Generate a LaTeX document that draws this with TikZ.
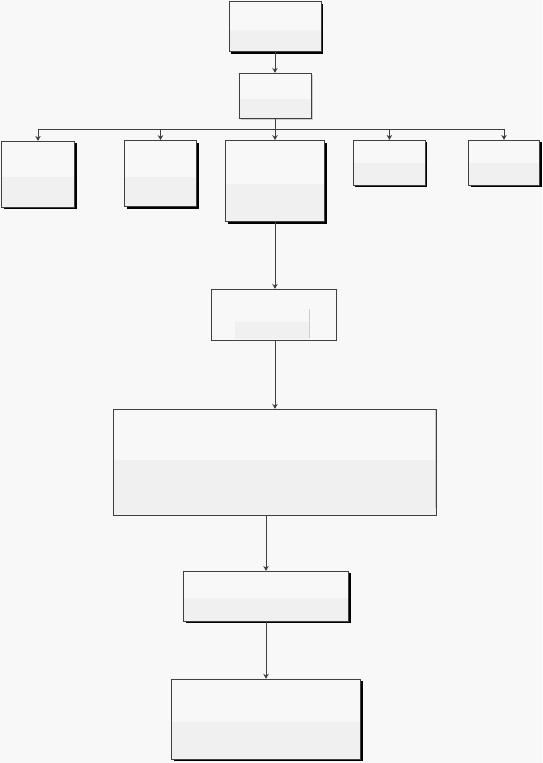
\documentclass[tikz,border=0pt]{standalone}
\usepackage{tikz}
\usetikzlibrary{arrows.meta, shadows}
\definecolor{bggray}{HTML}{F8F8F8}
\definecolor{lowgray}{HTML}{F0F0F0}
\definecolor{linegray}{HTML}{404040}
\definecolor{bargray}{HTML}{CCCCCC}

\begin{document}
\begin{tikzpicture}[
    x=1pt, y=-1pt,
    box/.style={rectangle, draw=linegray, fill=bggray, line width=0.8pt, inner sep=0pt,
        path picture={\fill[lowgray] (path picture bounding box.south west) rectangle ([yshift=#1]path picture bounding box.east);}},
    box/.default=-3pt,
    plainbox/.style={rectangle, draw=linegray, fill=bggray, line width=0.8pt, inner sep=0pt},
    darkshadow/.style={drop shadow={shadow xshift=2pt, shadow yshift=-2pt, fill=black, opacity=1}},
    softshadow/.style={drop shadow={shadow xshift=2pt, shadow yshift=-2pt, fill=black!20, opacity=1}},
    arrow/.style={-{Stealth[length=5pt, width=5.5pt]}, draw=linegray, line width=0.8pt},
    link/.style={draw=linegray, line width=0.8pt}
]
\fill[bggray] (0,0) rectangle (542,763);
\useasboundingbox (0,0) rectangle (542,763);

\node[box, darkshadow, minimum width=92pt, minimum height=50pt] (top) at (275,26.5) {};
\node[box, softshadow, minimum width=72pt, minimum height=45pt] (hub) at (275,95.8) {};

% row of five
\node[box, darkshadow, minimum width=73pt, minimum height=66pt] (ca) at (38,174.3) {};
\node[box, darkshadow, minimum width=72pt, minimum height=66pt] (cb) at (160.5,173.5) {};
\node[box, darkshadow, minimum width=99pt, minimum height=81pt] (cc) at (275,181) {};
\node[box=-0.5pt, darkshadow, minimum width=72pt, minimum height=45pt] (cd) at (389.4,162.8) {};
\node[box=-0.5pt, darkshadow, minimum width=71pt, minimum height=45pt] (ce) at (504,162.8) {};

\node[plainbox, minimum width=125pt, minimum height=51pt] (step1) at (274,314.8) {};
\fill[lowgray] ([xshift=24pt,yshift=-7pt]step1.west) rectangle ([xshift=-28pt,yshift=2pt]step1.south east);
\fill[bargray] ([xshift=-26.5pt,yshift=-20pt]step1.north east) rectangle ([xshift=-27.8pt,yshift=2.5pt]step1.south east);

\node[box=2pt, minimum width=323pt, minimum height=106pt] (step2) at (274.8,462.3) {};
\draw[bargray, line width=0.8pt] ([xshift=-1.3pt,yshift=-1pt]step2.north east) -- ([xshift=-1.3pt,yshift=8pt]step2.south east);
\node[box=-1.5pt, darkshadow, minimum width=165pt, minimum height=50pt] (step3) at (266,596.3) {};
\node[box=-3pt, darkshadow, minimum width=189pt, minimum height=80pt] (step4) at (266,719.2) {};

\coordinate (bus) at (275,129.3);

\draw[arrow] (top) -- (hub);
\draw[link] (hub.south) -- (bus);
\draw[link] (ca.north |- bus) -- (ce.north |- bus);
\foreach \c in {ca,cb,cc,cd,ce}
    \draw[arrow] (\c.north |- bus) -- (\c.north);

\draw[arrow] (cc.south) -- (cc.south |- step1.north);
\draw[arrow] (step1.south -| cc.south) -- (step2.north -| cc.south);
\draw[arrow] (step2.south -| step3.north) -- (step3.north);
\draw[arrow] (step3) -- (step4);
\end{tikzpicture}
\end{document}
